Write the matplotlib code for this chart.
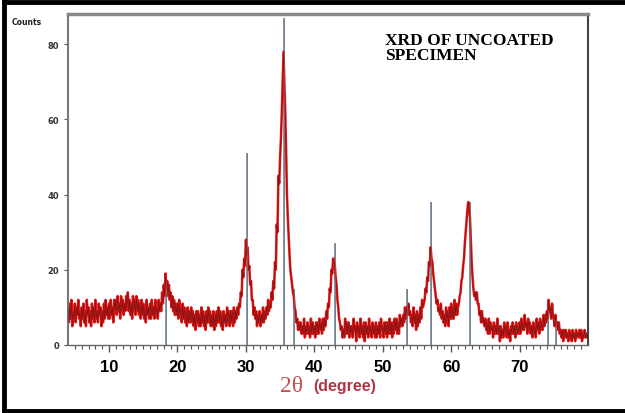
import numpy as np
import matplotlib.pyplot as plt
from matplotlib.lines import Line2D

# 2theta grid (0.125 deg steps) and counts, one row per degree
two_theta = np.arange(4.0, 80.001, 0.125)
counts = [
    10, 6, 11, 7, 12, 5, 9, 7,       # 4
    11, 6, 10, 8, 12, 7, 9, 5,       # 5
    10, 7, 11, 6, 9, 5, 12, 8,       # 6
    10, 6, 9, 5, 11, 7, 10, 6,       # 7
    12, 7, 9, 6, 11, 8, 10, 5,       # 8
    9, 6, 11, 7, 12, 8, 10, 7,       # 9
    11, 7, 12, 8, 10, 6, 12, 9,      # 10
    12, 8, 13, 9, 11, 7, 13, 9,      # 11
    12, 8, 11, 9, 13, 10, 14, 9,     # 12
    12, 8, 11, 7, 13, 9, 12, 8,      # 13
    13, 9, 12, 8, 11, 7, 12, 8,      # 14
    11, 7, 10, 6, 12, 8, 10, 7,      # 15
    11, 7, 12, 8, 10, 7, 12, 8,      # 16
    10, 7, 12, 9, 11, 9, 14, 11,     # 17
    16, 13, 19, 15, 17, 13, 16, 12,  # 18
    14, 10, 13, 9, 12, 8, 11, 8,     # 19
    11, 7, 12, 8, 10, 6, 11, 7,      # 20
    10, 6, 9, 5, 10, 6, 9, 6,        # 21
    10, 6, 9, 5, 8, 4, 9, 6,         # 22
    9, 5, 8, 5, 10, 6, 9, 5,         # 23
    8, 4, 9, 6, 10, 6, 9, 5,         # 24
    8, 5, 9, 4, 8, 5, 9, 6,          # 25
    10, 6, 9, 5, 8, 4, 9, 6,         # 26
    8, 5, 10, 6, 9, 5, 9, 6,         # 27
    9, 5, 10, 6, 9, 7, 10, 8,        # 28
    11, 10, 14, 13, 20, 18, 23, 21,  # 29
    28, 24, 26, 20, 21, 16, 17, 12,  # 30
    12, 8, 10, 7, 9, 5, 8, 6,        # 31
    9, 5, 8, 6, 10, 6, 9, 7,         # 32
    10, 8, 12, 9, 11, 10, 14, 12,    # 33
    17, 15, 22, 20, 32, 30, 45, 43,  # 34
    50, 55, 62, 70, 78, 70, 62, 52,  # 35
    40, 34, 29, 24, 20, 18, 16, 14,  # 36
    13, 10, 9, 6, 7, 4, 6, 4,        # 37
    6, 3, 5, 3, 7, 2, 5, 3,          # 38
    6, 3, 5, 2, 7, 3, 6, 3,          # 39
    5, 2, 6, 3, 6, 3, 7, 4,          # 40
    6, 3, 7, 4, 7, 5, 9, 7,          # 41
    11, 10, 15, 14, 20, 19, 23, 22,  # 42
    21, 18, 16, 12, 10, 7, 6, 4,     # 43
    5, 2, 4, 2, 7, 3, 6, 3,          # 44
    6, 2, 5, 3, 5, 2, 7, 4,          # 45
    5, 1, 6, 3, 5, 2, 7, 3,          # 46
    5, 2, 6, 1, 6, 3, 5, 2,          # 47
    7, 3, 5, 2, 6, 3, 5, 2,          # 48
    6, 2, 5, 3, 6, 2, 7, 4,          # 49
    5, 2, 6, 3, 6, 2, 6, 3,          # 50
    7, 3, 6, 2, 6, 3, 7, 4,          # 51
    7, 3, 6, 3, 8, 5, 7, 5,          # 52
    8, 6, 10, 7, 10, 8, 11, 8,       # 53
    9, 6, 8, 5, 10, 6, 8, 4,         # 54
    9, 5, 8, 6, 10, 7, 12, 10,       # 55
    11, 12, 15, 14, 18, 17, 22, 21,  # 56
    26, 23, 22, 19, 17, 15, 13, 11,  # 57
    12, 9, 10, 8, 11, 7, 9, 6,       # 58
    8, 5, 10, 6, 9, 5, 10, 7,        # 59
    11, 7, 10, 7, 12, 8, 11, 8,      # 60
    10, 11, 13, 14, 17, 18, 21, 23,  # 61
    27, 30, 33, 36, 38, 36, 34, 28,  # 62
    22, 18, 15, 13, 14, 12, 14, 11,  # 63
    11, 8, 9, 6, 9, 6, 7, 5,         # 64
    7, 4, 6, 3, 7, 3, 6, 4,          # 65
    5, 2, 6, 3, 5, 3, 7, 3,          # 66
    5, 1, 5, 2, 4, 2, 6, 3,          # 67
    5, 2, 6, 2, 4, 1, 5, 3,          # 68
    6, 3, 5, 2, 6, 3, 5, 3,          # 69
    6, 3, 7, 4, 6, 4, 8, 5,          # 70
    6, 3, 7, 4, 6, 3, 5, 2,          # 71
    6, 3, 5, 2, 7, 4, 6, 3,          # 72
    7, 4, 6, 4, 8, 5, 8, 6,          # 73
    9, 7, 12, 9, 10, 7, 11, 8,       # 74
    7, 5, 8, 5, 6, 4, 6, 3,          # 75
    4, 2, 4, 1, 4, 2, 4, 2,          # 76
    3, 1, 4, 2, 3, 1, 4, 2,          # 77
    3, 1, 4, 2, 3, 2, 4, 2,          # 78
    4, 1, 3, 2, 4, 2, 3, 2,          # 79
    3,                               # 80
]

# reference pattern sticks
ref_pos = [18.3, 30.1, 35.5, 37.1, 43.0, 53.6, 57.0, 62.8, 74.2, 75.3]
ref_height = [17, 51, 87, 15, 27, 15, 38, 38, 9, 7]

x_ticks = [10, 20, 30, 40, 50, 60, 70]
y_ticks = [0, 20, 40, 60, 80]

fig = plt.figure(figsize=(6.25, 4.14), dpi=100)
ax = fig.add_axes([0.1088, 0.1643, 0.832, 0.7995])

ax.vlines(ref_pos, 0, ref_height, color='#64798a', lw=1.1, zorder=1)
ax.plot(two_theta, counts, color='#e81414', lw=1.8, zorder=2)
ax.plot(two_theta, counts, color='#5e1515', lw=0.4, alpha=0.85, zorder=3)
ax.vlines(ref_pos, 0, ref_height, color='#64798a', lw=0.7, alpha=0.6, zorder=4)

ax.set_xlim(4, 80)
ax.set_ylim(0, 88)
ax.set_xticks(x_ticks)
ax.set_xticks(np.arange(5, 80, 1), minor=True)
ax.set_yticks(y_ticks)
ax.tick_params(axis='x', which='major', length=5, width=1, color='#555555',
               labelsize=12, pad=5)
ax.tick_params(axis='x', which='minor', length=3, width=0.8, color='#555555')
ax.tick_params(axis='y', length=3, width=0.8, color='#555555', labelsize=6,
               labelcolor='#333333')
for lab in ax.get_xticklabels():
    lab.set_fontweight('bold')
    lab.set_family('Liberation Sans')
for lab in ax.get_yticklabels():
    lab.set_fontweight('bold')

ax.spines['left'].set_color('#777777')
ax.spines['left'].set_linewidth(1.5)
ax.spines['top'].set_color('#888888')
ax.spines['top'].set_linewidth(2.5)
ax.spines['right'].set_color('#444444')
ax.spines['right'].set_linewidth(1.5)
ax.spines['bottom'].set_color('#666666')
ax.spines['bottom'].set_linewidth(1)

ax.text(50.3, 83.3, 'XRD OF UNCOATED\nSPECIMEN', family='Liberation Serif',
        weight='bold', fontsize=12.5, va='top', ha='left', linespacing=0.95)

fig.text(0.019, 0.94, 'Counts', fontsize=5.5, weight='bold', color='#222222')
fig.text(303 / 625, 1 - 387 / 414, '2θ', family='Liberation Serif', fontsize=17,
         color='#c2524f', ha='right', va='center')
fig.text(313 / 625, 1 - 387 / 414, '(degree)', family='Liberation Sans',
         weight='bold', fontsize=11.5, color='#b03545', ha='left', va='center')

# outer black frame (left, top, bottom)
for xs, ys in [([0.006, 0.006], [0.006, 0.992]),
               ([0.006, 1.0], [0.992, 0.992]),
               ([0.006, 1.0], [0.006, 0.006])]:
    fig.add_artist(Line2D(xs, ys, color='black', lw=3.5, transform=fig.transFigure))

fig.savefig('out.png', dpi=100)
